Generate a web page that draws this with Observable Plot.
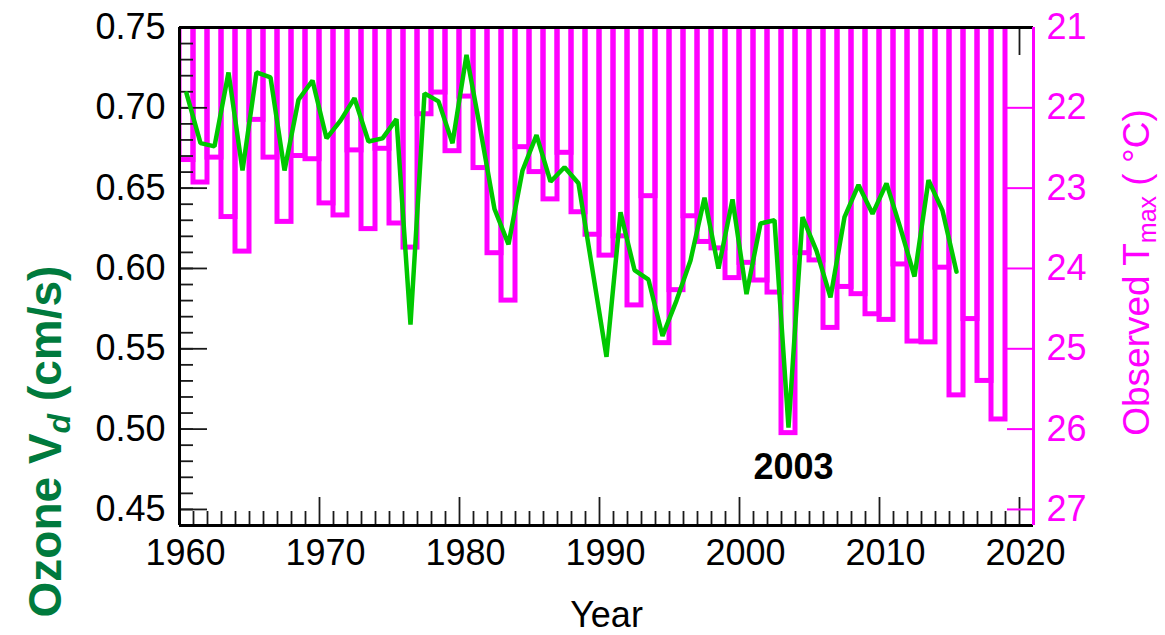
<!DOCTYPE html>
<html>
<head>
<meta charset="utf-8">
<script src="https://cdn.jsdelivr.net/npm/d3@7"></script>
<script src="https://cdn.jsdelivr.net/npm/@observablehq/plot@0.6"></script>
<style>
  html, body { margin: 0; padding: 0; background: #fff; }
  #chart { width: 1165px; height: 635px; }
</style>
</head>
<body>
<div id="chart"></div>
<script>
// ---------------- data ----------------
const tmaxYears = [1960,1961,1962,1963,1964,1965,1966,1967,1968,1969,
  1970,1971,1972,1973,1974,1975,1976,1977,1978,1979,
  1980,1981,1982,1983,1984,1985,1986,1987,1988,1989,
  1990,1991,1992,1993,1994,1995,1996,1997,1998,1999,
  2000,2001,2002,2003,2004,2005,2006,2007,2008,2009,
  2010,2011,2012,2013,2014,2015,2016,2017,2018];
const tmaxValues = [22.65,22.93,22.62,23.36,23.79,22.15,22.62,23.42,22.60,22.64,
  23.19,23.34,22.53,23.51,22.51,23.44,23.74,22.08,21.81,22.54,
  21.86,22.75,23.81,24.40,22.49,22.80,23.14,22.56,23.30,23.58,
  23.84,23.60,24.46,23.10,24.93,24.27,23.35,23.67,23.75,24.12,
  23.93,24.15,24.30,26.05,23.81,23.90,24.74,24.23,24.32,24.57,
  24.64,23.95,24.91,24.92,23.99,25.58,24.63,25.40,25.88];

const vdYears = [1960,1961,1962,1963,1964,1965,1966,1967,1968,1969,
  1970,1971,1972,1973,1974,1975,1976,1977,1978,1979,
  1980,1981,1982,1983,1984,1985,1986,1987,1988,1989,
  1990,1991,1992,1993,1994,1995,1996,1997,1998,1999,
  2000,2001,2002,2003,2004,2005,2006,2007,2008,2009,
  2010,2011,2012,2013,2014,2015];
const vdValues = [0.709,0.678,0.676,0.722,0.661,0.722,0.719,0.661,0.705,0.717,
  0.681,0.692,0.706,0.679,0.681,0.693,0.565,0.709,0.704,0.678,
  0.733,0.686,0.637,0.615,0.661,0.683,0.654,0.663,0.653,0.599,
  0.545,0.635,0.599,0.593,0.558,0.580,0.605,0.644,0.600,0.643,
  0.584,0.628,0.630,0.501,0.632,0.611,0.582,0.632,0.652,0.634,
  0.653,0.625,0.595,0.655,0.636,0.598];

const xMajorTicks = [1960,1970,1980,1990,2000,2010,2020];
const xMinorTicks = d3.range(1961, 2021).filter(y => y % 10 !== 0);
const vdTickLabels = ["0.45","0.50","0.55","0.60","0.65","0.70","0.75"];
const vdMinorTicks = d3.range(44, 76).map(v => v / 100);
const tmaxTickLabels = [21,22,23,24,25,26,27];
const annotations = [{year: 2003, label: "2003"}];

// ---------------- layout / scales ----------------
const W = 1165, H = 635;
const mL = 179, mR = 132, mT = 27, mB = 110;
const frameW = W - mL - mR, frameH = H - mT - mB;
const yearDomain = [1960, 2021];
const vdDomain = [0.44, 0.75];
// right axis (Tmax, inverted): 21 °C <-> 0.75, 27 °C <-> 0.45
const tTop = 21, tBottom = 27;
const toVd = t => vdDomain[1] - (t - tTop) * (0.75 - 0.45) / (tBottom - tTop);

const MAGENTA = "#ff00ff";
const GREEN = "#00c800";
const DKGREEN = "#007a3d";
const TICK = "#1a1a1a";

const bars = tmaxYears.map((y, i) => ({year: y, t: tmaxValues[i]}));
const vd = vdYears.map((y, i) => ({year: y, vd: vdValues[i]}));
const vdByYear = new Map(vd.map(d => [d.year, d.vd]));

const chart = Plot.plot({
  width: W, height: H,
  marginLeft: mL, marginRight: mR, marginTop: mT, marginBottom: mB,
  style: {fontFamily: "'Liberation Sans', Arial, Helvetica, sans-serif", background: "#fff", overflow: "visible"},
  x: {domain: yearDomain, axis: null},
  y: {domain: vdDomain, axis: null},
  marks: [
    // top x ticks (behind bars)
    Plot.tickX(xMinorTicks, {x: d => d, insetBottom: frameH - 14, stroke: TICK, strokeWidth: 1.8}),
    Plot.tickX(xMajorTicks, {x: d => d, insetBottom: frameH - 28, stroke: TICK, strokeWidth: 1.8}),
    // Tmax bars hanging from the top
    Plot.rect(bars, {
      x1: d => d.year, x2: d => d.year + 1,
      y1: () => toVd(tTop), y2: d => toVd(d.t),
      insetTop: -10,
      fill: "none", stroke: MAGENTA, strokeWidth: 5, clip: true
    }),
    // left y ticks
    Plot.tickY(vdMinorTicks, {y: d => d, insetRight: frameW - 14, stroke: TICK, strokeWidth: 1.8}),
    Plot.tickY(vdTickLabels, {y: d => +d, insetRight: frameW - 28, stroke: TICK, strokeWidth: 1.8}),
    // bottom x ticks
    Plot.tickX(xMinorTicks, {x: d => d, insetTop: frameH - 14, stroke: TICK, strokeWidth: 1.8}),
    Plot.tickX(xMajorTicks, {x: d => d, insetTop: frameH - 28, stroke: TICK, strokeWidth: 1.8}),
    // right (Tmax) ticks
    Plot.tickY(tmaxTickLabels, {y: d => toVd(d), insetLeft: frameW - 26, stroke: MAGENTA, strokeWidth: 2}),
    // ozone Vd line
    Plot.line(vd, {x: d => d.year + 0.5, y: "vd", stroke: GREEN, strokeWidth: 4.5, strokeLinejoin: "miter"}),
    // frame
    Plot.ruleY([vdDomain[1]], {stroke: "#000", strokeWidth: 3}),
    Plot.ruleY([vdDomain[0]], {stroke: "#000", strokeWidth: 3}),
    Plot.ruleX([yearDomain[0]], {stroke: "#000", strokeWidth: 3}),
    Plot.ruleX([yearDomain[1]], {stroke: MAGENTA, strokeWidth: 3}),
    // tick labels
    Plot.text(vdTickLabels, {y: d => +d, text: d => d, frameAnchor: "left", textAnchor: "end", lineAnchor: "middle", dx: -14, fontSize: 36, fill: "#000"}),
    Plot.text(tmaxTickLabels, {y: d => toVd(d), text: d => String(d), frameAnchor: "right", textAnchor: "start", lineAnchor: "middle", dx: 13, fontSize: 36, fill: MAGENTA}),
    Plot.text(xMajorTicks, {x: d => d, text: d => String(d), frameAnchor: "bottom", textAnchor: "middle", lineAnchor: "middle", dx: 6, dy: 28, fontSize: 36, fill: "#000"}),
    // axis titles
    Plot.text(["Year"], {text: d => d, frameAnchor: "bottom", textAnchor: "middle", lineAnchor: "middle", dy: 90, fontSize: 36, fill: "#000"}),
    Plot.text(["Ozone Vd (cm/s)"], {text: d => d, frameAnchor: "left", textAnchor: "middle", lineAnchor: "middle", rotate: -90, dx: -133, dy: 165, fontSize: 46, fontWeight: "bold", fill: DKGREEN}),
    Plot.text(["Observed Tmax ( °C)"], {text: d => d, frameAnchor: "right", textAnchor: "middle", lineAnchor: "middle", rotate: -90, dx: 104, dy: -4, fontSize: 37, fill: MAGENTA}),
    // annotation
    Plot.text(annotations, {x: d => d.year + 0.5, y: d => vdByYear.get(d.year), text: "label", dx: 5, dy: 40, lineAnchor: "middle", fontSize: 36, fontWeight: "bold", fill: "#000"})
  ]
});

// rich text (subscripts) for the axis titles
function setRich(el, parts) {
  el.textContent = "";
  for (const p of parts) {
    const ts = document.createElementNS("http://www.w3.org/2000/svg", "tspan");
    ts.textContent = p.text;
    if (p.size) ts.setAttribute("font-size", p.size);
    if (p.italic) ts.setAttribute("font-style", "italic");
    if (p.dy) ts.setAttribute("dy", p.dy);
    el.appendChild(ts);
  }
}
chart.querySelectorAll("text").forEach(t => {
  if (t.textContent === "Ozone Vd (cm/s)") {
    setRich(t, [
      {text: "Ozone V"},
      {text: "d", size: 32, italic: true, dy: 9},
      {text: " (cm/s)", dy: -9}
    ]);
  } else if (t.textContent === "Observed Tmax ( °C)") {
    setRich(t, [
      {text: "Observed T"},
      {text: "max", size: 25, dy: 7},
      {text: " ( °C)", dy: -7}
    ]);
  }
});

document.getElementById("chart").appendChild(chart);
</script>
</body>
</html>
